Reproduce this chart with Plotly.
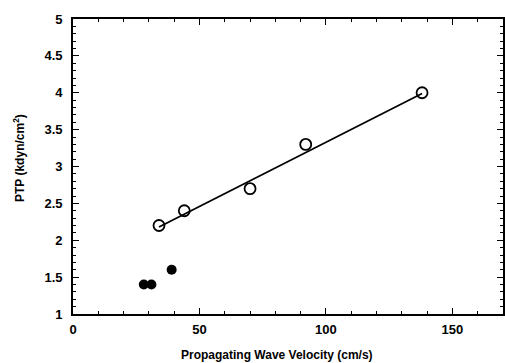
import plotly.graph_objects as go

# Data
open_x = [34, 44, 70, 92, 138]
open_y = [2.2, 2.4, 2.7, 3.3, 4.0]
filled_x = [28, 31, 39]
filled_y = [1.4, 1.4, 1.6]
fit_x = [34, 138]
fit_y = [2.18, 3.99]
x_ticks = [0, 50, 100, 150]
y_ticks = [1, 1.5, 2, 2.5, 3, 3.5, 4, 4.5, 5]
y_tick_labels = ["1", "1.5", "2", "2.5", "3", "3.5", "4", "4.5", "5"]

FAM = "Liberation Sans, Arial, sans-serif"

fig = go.Figure()
fig.add_trace(go.Scatter(x=fit_x, y=fit_y, mode="lines",
                         line=dict(color="black", width=1.8), showlegend=False))
fig.add_trace(go.Scatter(x=open_x, y=open_y, mode="markers",
                         marker=dict(symbol="circle-open", size=11, color="black",
                                     line=dict(width=1.8, color="black")),
                         showlegend=False))
fig.add_trace(go.Scatter(x=filled_x, y=filled_y, mode="markers",
                         marker=dict(symbol="circle", size=10, color="black"),
                         showlegend=False))

tickfont = dict(family=FAM, size=13, color="black", weight="bold")

fig.update_layout(
    width=505, height=363,
    margin=dict(l=73, r=2, t=19, b=49),
    paper_bgcolor="white", plot_bgcolor="white",
    font=dict(family=FAM, size=12, color="black"),
    xaxis=dict(range=[0, 170], tickvals=x_ticks, ticktext=[str(v) for v in x_ticks],
               ticks="inside", ticklen=6, tickwidth=1.3, tickcolor="black",
               minor=dict(dtick=10, tick0=0, ticks="inside", ticklen=3, tickcolor="black"),
               showline=True, linecolor="black", linewidth=1.8, mirror="ticks",
               showgrid=False, zeroline=False, automargin=False, ticklabelstandoff=2,
               tickfont=tickfont),
    yaxis=dict(range=[1, 5], tickvals=y_ticks, ticktext=y_tick_labels,
               ticks="inside", ticklen=6, tickwidth=1.3, tickcolor="black",
               minor=dict(dtick=0.1, tick0=1, ticks="inside", ticklen=3, tickcolor="black"),
               showline=True, linecolor="black", linewidth=1.8, mirror="ticks",
               showgrid=False, zeroline=False, automargin=False, ticklabelstandoff=6,
               tickfont=tickfont),
    annotations=[
        dict(text="Propagating Wave Velocity (cm/s)", xref="paper", yref="paper",
             x=(277 - 73) / 430, y=-(355 - 314) / 295, xanchor="center", yanchor="middle",
             showarrow=False, font=dict(family=FAM, size=12, color="black", weight="bold")),
        dict(text="PTP (kdyn/cm<sup>2</sup>)", xref="paper", yref="paper",
             x=-(73 - 19) / 430, y=(314 - 158) / 295, xanchor="center", yanchor="middle",
             textangle=-90, showarrow=False,
             font=dict(family=FAM, size=12, color="black", weight="bold")),
    ],
)

post = ("document.body.style.margin='0';document.body.style.overflow='hidden';"
        "var gd=document.getElementById('{plot_id}');"
        "Plotly.relayout(gd,{width:505,height:363});")

fig.write_html("out.html", config={"responsive": False, "displayModeBar": False},
               post_script=post)
